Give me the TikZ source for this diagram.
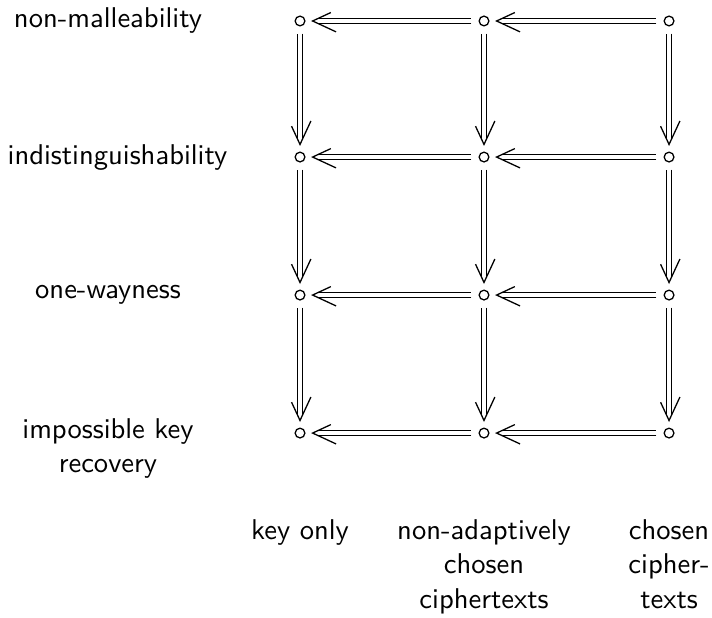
\documentclass[tikz,border=0pt]{standalone}
\usepackage{tikz}
\usetikzlibrary{decorations.markings}

\tikzset{
  pt/.style={circle, draw, line width=0.45pt, inner sep=0pt, minimum size=3.4pt, outer sep=2.7pt},
  impl/.style={double, line width=0.55pt, double distance=1.3pt, shorten >=2pt,
    postaction={decorate, decoration={markings, mark=at position 1 with
      {\draw[line width=0.45pt] (-8.2pt,3.8pt) -- (0pt,0pt) -- (-8.2pt,-3.8pt);}}}},
  lbl/.style={align=center, inner sep=0pt}
}

\begin{document}
\begin{tikzpicture}[font=\sffamily]
    \useasboundingbox (0cm,0cm) rectangle (8.75cm,-7.583cm);
    % the twelve points, rows = goal, columns = attack
    \foreach \r/\y in {nm/-0.258, ind/-1.930, ow/-3.626, kr/-5.322}
    {
      \foreach \c/\x in {ko/3.687, nac/5.948, cca/8.222}
      {
        \node[pt] (\r-\c) at (\x cm,\y cm) {};
      }
    }
    % stronger attack implies weaker one
    \foreach \r in {nm,ind,ow,kr}
    {
      \draw[impl] (\r-cca) -- (\r-nac);
      \draw[impl] (\r-nac) -- (\r-ko);
    }
    % stronger goal implies weaker one
    \foreach \c in {ko,nac,cca}
    {
      \draw[impl] (nm-\c) -- (ind-\c);
      \draw[impl] (ind-\c) -- (ow-\c);
      \draw[impl] (ow-\c) -- (kr-\c);
    }
    % goals
    \node[lbl] (goal-nm) at (1.327cm,-0.258cm) {non-malleability};
    \node[lbl] (goal-ind) at (1.444cm,-1.930cm) {indistinguishability};
    \node[lbl] (goal-ow) at (1.327cm,-3.626cm) {one-wayness};
    \node[lbl, anchor=north] (goal-kr) at (1.327cm,-5.137cm) {impossible key\\recovery};
    % attacks
    \node[lbl, anchor=north] (atk-ko) at (3.687cm,-6.381cm) {key only};
    \node[lbl, anchor=north] (atk-nac) at (5.948cm,-6.381cm) {non-adaptively\\chosen\\ciphertexts};
    \node[lbl, anchor=north] (atk-cca) at (8.222cm,-6.381cm) {chosen\\cipher-\\texts};
\end{tikzpicture}
\end{document}
